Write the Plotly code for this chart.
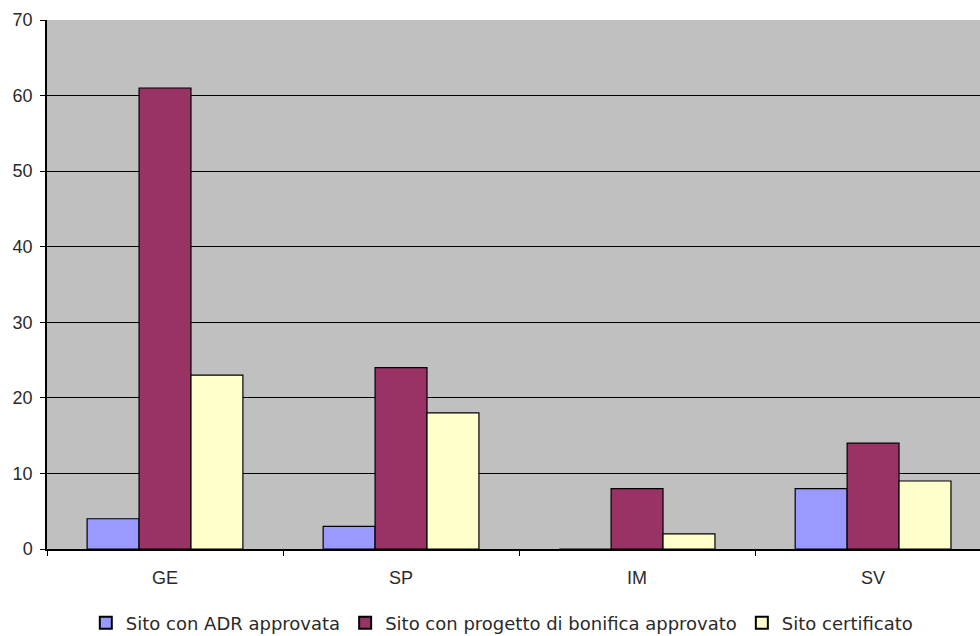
import plotly.graph_objects as go

# Province codes and counts of contaminated sites by status
provinces = ["GE", "SP", "IM", "SV"]
adr_approved = [4, 3, 0, 8]
remediation_approved = [61, 24, 8, 14]
certified = [23, 18, 2, 9]

series_names = [
    "Sito con ADR approvata",
    "Sito con progetto di bonifica approvato",
    "Sito certificato",
]
series_colors = ["#9999FF", "#993366", "#FFFFCC"]
y_ticks = [0, 10, 20, 30, 40, 50, 60, 70]

fig = go.Figure()
for name, vals, col in zip(series_names,
                           [adr_approved, remediation_approved, certified],
                           series_colors):
    fig.add_trace(go.Bar(
        x=provinces, y=vals, name=name,
        marker=dict(color=col, line=dict(color="#000000", width=1.2)),
    ))

fig.update_layout(
    width=980, height=636,
    margin=dict(l=47, r=0, t=20, b=87, autoexpand=False),
    paper_bgcolor="#FFFFFF",
    plot_bgcolor="#C0C0C0",
    barmode="group",
    bargap=0.34,
    bargroupgap=0,
    font=dict(family="Liberation Sans, Arial, sans-serif", size=18, color="#333333"),
    showlegend=True,
    legend=dict(
        orientation="h", x=0.488, xanchor="center", y=-0.14, yanchor="middle",
        font=dict(family="DejaVu Sans, Liberation Sans, sans-serif",
                  size=18, color="#2a2a2a"),
        itemsizing="constant", traceorder="normal",
        itemwidth=30, tracegroupgap=0,
    ),
)

fig.update_xaxes(
    range=[-0.5, 3.453],
    showgrid=False,
    showline=True, linecolor="#000000", linewidth=1.5,
    ticks="outside", tickson="boundaries", ticklen=5,
    tickcolor="#000000",
    ticklabelstandoff=12,
    tickfont=dict(size=18, color="#2a2a2a"),
)
fig.update_yaxes(
    range=[0, 70],
    tickvals=y_ticks,
    showgrid=True, gridcolor="#000000", gridwidth=1,
    showline=True, linecolor="#000000", linewidth=1.5,
    ticks="outside", ticklen=5, tickcolor="#000000",
    ticklabelstandoff=4,
    tickfont=dict(size=18, color="#2a2a2a"),
    zeroline=False,
)

fig.write_html("out.html")
